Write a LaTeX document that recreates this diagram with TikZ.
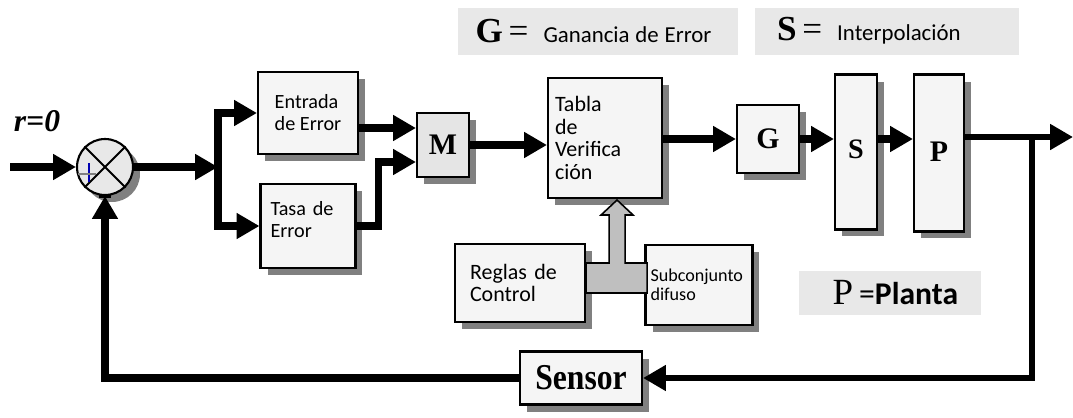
\documentclass[tikz,border=0pt]{standalone}
\usepackage{fontspec}
\usepackage{graphicx}
\setmainfont{Liberation Serif}
\newfontfamily\calibri{Carlito}
\usetikzlibrary{arrows.meta,shadows,positioning}

\tikzset{
  block/.style={draw, rectangle, line width=1.2pt, fill=black!4, inner sep=0pt,
    drop shadow={shadow xshift=0.14cm, shadow yshift=-0.14cm, fill=black!50, opacity=1}},
  txt/.style 2 args={font=\calibri\fontsize{#1}{#2}\selectfont},
  big/.style={font=\bfseries\fontsize{#1}{#1}\selectfont},
  flow/.style={line width=4pt, -{Triangle[length=13pt,width=14pt]}},
  legend/.style={fill=black!9, inner sep=0pt, align=left},
  fuzzy/.style={draw, line width=0.9pt, fill=black!25, line join=miter}
}

\begin{document}
\begin{tikzpicture}[x=0.02cm, y=-0.02cm]
    \useasboundingbox (0,0) rectangle (1073,417);

    \node[legend, minimum width=5.6cm, minimum height=0.94cm, text width=4.9cm] (legG) at (598,31)
        {{\fontsize{20}{20}\selectfont\textbf{G}\,=}\hspace{0.3cm}{\calibri\fontsize{13}{15}\selectfont Ganancia de Error}};
    \node[legend, minimum width=5.3cm, minimum height=0.94cm, text width=4.4cm] (legS) at (887,31)
        {{\fontsize{20}{20}\selectfont\textbf{S}\,=}\hspace{0.3cm}{\calibri\fontsize{13}{15}\selectfont Interpolación}};
    \node[legend, minimum width=3.64cm, minimum height=0.88cm, text width=2.3cm] (legP) at (890,293)
        {{\fontsize{21}{21}\selectfont P\,}{\calibri\fontsize{18}{18}\selectfont =\textbf{Planta}}};

    \node[circle, draw, line width=1.2pt, fill=black!9, minimum size=1.12cm, inner sep=0pt,
        drop shadow={shadow xshift=0.14cm, shadow yshift=-0.14cm, fill=black!50, opacity=1}] (sum) at (105,167) {};
    \draw[line width=1.2pt] (sum.north west) -- (sum.south east) (sum.north east) -- (sum.south west);
    \draw[blue!70!black, line width=0.6pt] (89,163) -- (89,182);
    \draw[gray, line width=0.6pt] (78,174) -- (96,174);
    \node[font=\bfseries\itshape\fontsize{18}{18}\selectfont] (ref) at (37,121) {r=0};

    \node[block, txt={11.5}{12.5}, minimum width=2cm, minimum height=1.64cm, align=left] (entrada) at (308,113) {Entrada\\de Error};
    \node[block, txt={11.5}{12.5}, minimum width=1.9cm, minimum height=1.68cm, text width=1.5cm, align=left] (tasa) at (308,226) {Tasa de\\Error\\[-5pt]\mbox{}};
    \node[block, big=17, fill=black!10, minimum width=1.04cm, minimum height=1.28cm] (m) at (443,145) {M};
    \node[block, txt={12.5}{13}, minimum width=2.28cm, minimum height=2.4cm, text width=2cm, align=left] (tabla) at (605,138) {Tabla\\de\\Verifica\\ción};
    \node[block, big=17, minimum width=1.24cm, minimum height=1.36cm] (g) at (768,139) {G};
    \node[block, big=16, minimum width=0.84cm, minimum height=3.1cm] (s) at (856,152) {\raisebox{0.12cm}{S}};
    \node[block, big=17, minimum width=1cm, minimum height=3.14cm] (p) at (939,153) {\raisebox{0.06cm}{P}};
    \node[block, big=18, minimum width=2.44cm, minimum height=1.06cm] (sensor) at (581,378) {\scalebox{1}[1.15]{Sensor}};
    \node[block, txt={12.5}{13}, minimum width=2.6cm, minimum height=1.56cm, text width=2cm, align=left] (reglas) at (520,283) {Reglas de\\Control};
    \node[block, txt={10.3}{11}, minimum width=2.14cm, minimum height=1.6cm, text width=1.94cm, align=left] (difuso) at (699,285) {Subconjunto\\difuso};

    \coordinate (in) at (10,167);
    \coordinate (split) at (218,167);
    \coordinate (m-in1) at ([yshift=0.34cm]m.west);
    \coordinate (m-in2) at ([yshift=-0.34cm]m.west);
    \coordinate (out) at (1073,137);
    \coordinate (tap) at (1032,137);

    \draw[flow] (in) -- (sum.west);
    \draw[flow] (sum.east) -- (split);
    \draw[flow] (split) |- (entrada.west);
    \draw[flow] (split) |- (tasa.west);
    \draw[flow] (entrada.east |- m-in1) -- (m-in1);
    \draw[flow] (tasa.east) -- ++(22,0) |- (m-in2);
    \draw[flow] (m.east) -- (m.east -| tabla.west);
    \draw[flow] (tabla.east |- g.west) -- (g.west);
    \draw[flow] (g.east) -- (g.east -| s.west);
    \draw[flow] (s.east |- g.east) -- (g.east -| p.west);
    \draw[flow, line width=3.4pt] (p.east |- out) -- (out);
    \draw[flow, line width=3.4pt] (tap) |- (sensor.east);
    \draw[flow] (sensor.west) -| (sum.south);
    \draw[line width=2.3pt] (99,196) -- (111,196);

    \draw[fuzzy] ([yshift=0.4cm]reglas.east) -- ++(23,0) -- ++(0,-48) -- ++(-8,0) -- ++(16,-15)
        -- ++(16,15) -- ++(-8,0) -- ++(0,48) -- ++(22,0) -- ++(0,30) -- ++(-61,0) -- cycle;
\end{tikzpicture}
\end{document}
